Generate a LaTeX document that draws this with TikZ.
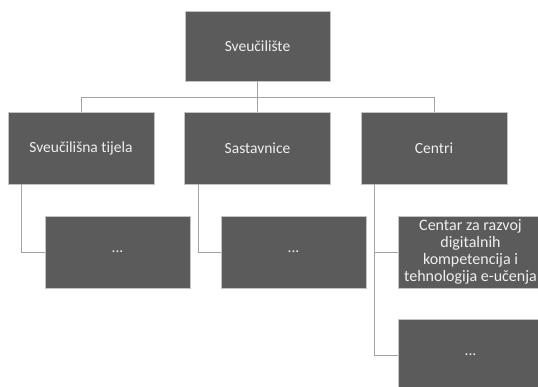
\documentclass[tikz,border=0pt]{standalone}
\usepackage{fontspec}
\setmainfont{Carlito}[Ligatures={NoCommon}]
\definecolor{boxfill}{HTML}{5B5B5B}
\definecolor{boxline}{HTML}{C4C4C4}
\definecolor{linkcol}{HTML}{A3A3A3}
\definecolor{txtcol}{HTML}{EFEFEF}
\begin{document}
\begin{tikzpicture}[x=1pt,y=-1pt,
  orgbox/.style={draw=boxline,line width=0.8pt,fill=boxfill,text=txtcol,inner sep=0pt,align=center,font=\fontsize{15.5}{17}\selectfont},
  lvltwo/.style={orgbox,minimum width=146pt,minimum height=72pt},
  lvlthree/.style={orgbox,minimum width=145pt,minimum height=72pt},
  link/.style={draw=linkcol,line width=0.9pt}]
\useasboundingbox (0,0) rectangle (538,387);
\clip (0,0) rectangle (538,387);
\node[orgbox,minimum width=145pt,minimum height=70pt] (top) at (257.5,46) {Sveučilište};
\node[lvltwo] (b1) at (81,148) {Sveučilišna tijela};
\node[lvltwo] (b2) at (257.5,148) {Sastavnice};
\node[lvltwo] (b3) at (434,148) {Centri};
\node[lvlthree] (c1) at (117.5,252) {...};
\node[lvlthree] (c2) at (293.5,252) {...};
\node[lvlthree,font=\fontsize{16}{17}\selectfont] (c3) at (470.5,252) {Centar za razvoj\\digitalnih\\kompetencija i\\tehnologija e-učenja};
\node[lvlthree] (c4) at (470.5,355) {...};
\coordinate (bar) at (0,97);
\draw[link] (top.south) -- (top.south |- bar);
\draw[link] (b1.north) -- (b1.north |- bar) -| (b3.north);
\draw[link] (b2.north) -- (b2.north |- bar);
\draw[link] ([xshift=14pt]b1.south west) |- (c1.west);
\draw[link] ([xshift=14pt]b2.south west) |- (c2.west);
\draw[link] ([xshift=14pt]b3.south west) |- (c3.west);
\draw[link] ([xshift=14pt]b3.south west) |- (c4.west);
\end{tikzpicture}
\end{document}
